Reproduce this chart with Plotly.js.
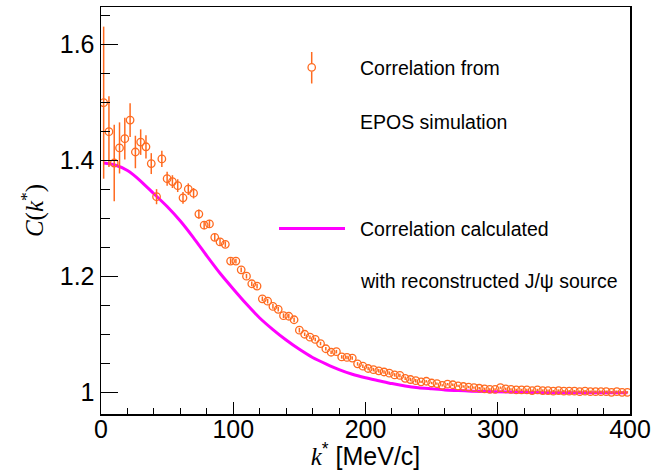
<!DOCTYPE html>
<html>
<head>
<meta charset="utf-8">
<script src="https://cdn.plot.ly/plotly-3.0.1.min.js"></script>
<style>html,body{margin:0;padding:0;background:#fff;}#chart{width:655px;height:470px;}</style>
</head>
<body>
<div id="chart"></div>
<script>
// k* bin centres [MeV/c]
const kStar = [2,6,10,14,18,22,26,30,34,38,42,46,50,54,58,62,66,70,74,78,
  82,86,90,94,98,102,106,110,114,118,122,126,130,134,138,142,146,150,154,158,
  162,166,170,174,178,182,186,190,194,198,202,206,210,214,218,222,226,230,234,238,
  242,246,250,254,258,262,266,270,274,278,282,286,290,294,298,302,306,310,314,318,
  322,326,330,334,338,342,346,350,354,358,362,366,370,374,378,382,386,390,394,398];
// Correlation from EPOS simulation
const corrEpos = [1.499,1.449,1.395,1.421,1.437,1.469,1.414,1.431,1.423,1.394,1.337,1.402,1.368,1.363,1.356,1.335,1.350,1.343,1.307,1.288,
  1.290,1.267,1.259,1.255,1.226,1.226,1.211,1.200,1.187,1.183,1.161,1.157,1.148,1.143,1.132,1.131,1.125,1.107,1.100,1.095,
  1.091,1.084,1.075,1.069,1.070,1.061,1.060,1.059,1.049,1.045,1.041,1.039,1.037,1.035,1.033,1.030,1.029,1.024,1.022,1.020,
  1.018,1.019,1.016,1.015,1.012,1.014,1.013,1.011,1.010,1.009,1.008,1.007,1.006,1.005,1.005,1.008,1.006,1.005,1.004,1.004,
  1.004,1.003,1.004,1.003,1.003,1.002,1.003,1.002,1.002,1.002,1.001,1.002,1.001,1.001,1.001,1.001,1.000,1.001,1.000,1.000];
// statistical errors
const corrErr = [0.131,0.061,0.066,0.044,0.036,0.029,0.028,0.022,0.020,0.018,0.013,0.014,0.012,0.011,0.011,0.010,0.010,0.009,0.008,0.007,
  0.007,0.006,0.006,0.005,0.005,0.004,0.004,0.004,0.004,0.004,0.004,0.004,0.004,0.004,0.004,0.004,0.004,0.004,0.003,0.003,
  0.003,0.003,0.003,0.003,0.003,0.003,0.003,0.003,0.003,0.003,0.003,0.003,0.003,0.003,0.003,0.003,0.003,0.003,0.003,0.003,
  0.002,0.002,0.002,0.002,0.002,0.002,0.002,0.002,0.002,0.002,0.002,0.002,0.002,0.002,0.002,0.002,0.002,0.002,0.002,0.002,
  0.002,0.002,0.002,0.002,0.002,0.002,0.002,0.002,0.002,0.002,0.002,0.002,0.002,0.002,0.002,0.002,0.002,0.002,0.002,0.002];
// Correlation calculated with reconstructed J/psi source
const calcK = [2,10,20,30,40,50,60,70,80,90,100,110,120,130,140,150,160,170,180,190,200,210,220,230,240,250,260,270,280,300,320,350,398];
const calcC = [1.395,1.392,1.382,1.364,1.342,1.320,1.295,1.266,1.235,1.205,1.178,1.152,1.128,1.108,1.090,1.074,1.060,1.049,1.039,1.031,1.025,1.020,1.015,1.011,1.008,1.006,1.004,1.003,1.002,1.001,1.000,0.999,0.999];

const legendLines = ["Correlation from","EPOS simulation","Correlation calculated","with reconstructed J/\u03c8 source"];

const W = 655, H = 470, L = 101, R = 25, T = 7, B = 56;
const px = x => (x - L) / (W - L - R);
const py = y => (H - B - y) / (H - T - B);

const orange = '#ff6a1f';
const magenta = '#ff00ff';

const traces = [
  {
    x: calcK, y: calcC, type: 'scatter', mode: 'lines',
    line: {color: magenta, width: 3, shape: 'spline', smoothing: 0.6},
    hoverinfo: 'none', showlegend: false
  },
  {
    x: kStar, y: corrEpos, type: 'scatter', mode: 'markers',
    marker: {symbol: 'circle-open', size: 7.5, color: orange, line: {color: orange, width: 1.3}},
    error_y: {type: 'data', array: corrErr, visible: true, color: orange, thickness: 1.5, width: 0},
    hoverinfo: 'none', showlegend: false
  }
];

const textFont = {family: 'Liberation Sans, Arial, sans-serif', size: 19.5, color: '#000'};
const legY = [68, 122, 229, 281];
const annotations = legendLines.map((t, i) => ({
  xref: 'paper', yref: 'paper', x: px(358), y: py(legY[i]),
  xanchor: 'left', yanchor: 'middle', text: t, showarrow: false, font: textFont
}));

const shapes = [
  {type: 'line', xref: 'paper', yref: 'paper', x0: px(311.7), x1: px(311.7), y0: py(52), y1: py(63.5), line: {color: orange, width: 1.5}},
  {type: 'line', xref: 'paper', yref: 'paper', x0: px(311.7), x1: px(311.7), y0: py(71.5), y1: py(83.5), line: {color: orange, width: 1.5}},
  {type: 'circle', xref: 'paper', yref: 'paper', x0: px(308), x1: px(315.4), y0: py(63.7), y1: py(71.1), line: {color: orange, width: 1.3}},
  {type: 'line', xref: 'paper', yref: 'paper', x0: px(279), x1: px(345), y0: py(228.5), y1: py(228.5), line: {color: magenta, width: 3}}
];

const layout = {
  width: W, height: H,
  margin: {l: L, r: R, t: T, b: B, pad: 0},
  paper_bgcolor: '#fff', plot_bgcolor: '#fff',
  showlegend: false,
  xaxis: {
    range: [0, 400], dtick: 100, tick0: 0,
    ticks: 'inside', ticklen: 12, tickwidth: 1, tickcolor: '#000',
    minor: {ticks: 'inside', dtick: 20, ticklen: 6, tickwidth: 1, tickcolor: '#000'},
    showgrid: false, zeroline: false,
    showline: true, mirror: true, linecolor: '#000', linewidth: 1.5,
    ticklabelstandoff: -8,
    tickfont: {family: 'Liberation Sans, Arial, sans-serif', size: 25, color: '#000'},
    title: {
      text: "<span style='font-family:Liberation Serif'><i>k</i></span><sup>*</sup> [MeV/c]",
      font: {family: 'Liberation Sans, Arial, sans-serif', size: 25, color: '#000'},
      standoff: 12
    }
  },
  yaxis: {
    range: [0.9626, 1.6638], dtick: 0.2, tick0: 1,
    ticks: 'inside', ticklen: 17, tickwidth: 1, tickcolor: '#000',
    minor: {ticks: 'inside', dtick: 0.05, ticklen: 8.5, tickwidth: 1, tickcolor: '#000'},
    showgrid: false, zeroline: false,
    showline: true, mirror: true, linecolor: '#000', linewidth: 1.5,
    tickfont: {family: 'Liberation Sans, Arial, sans-serif', size: 25, color: '#000'},
    title: {
      text: "<i>C</i>(<i>k</i><sup>*</sup>)",
      font: {family: 'Liberation Serif, Times New Roman, serif', size: 25, color: '#000'},
      standoff: 9
    }
  },
  annotations: annotations,
  shapes: shapes
};

Plotly.newPlot('chart', traces, layout, {staticPlot: true, displayModeBar: false});
</script>
</body>
</html>
